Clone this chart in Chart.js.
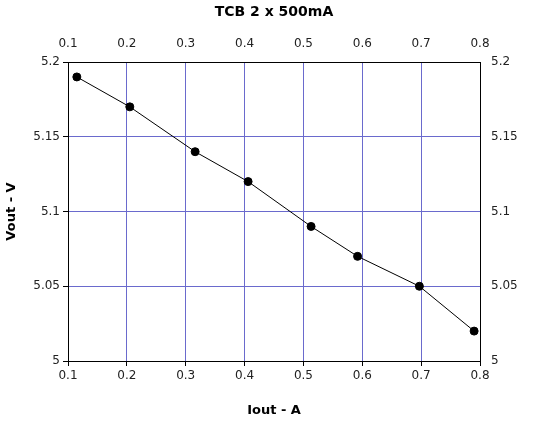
<!DOCTYPE html>
<html><head><script src="https://cdn.jsdelivr.net/npm/chart.js@4"></script>
<style>html,body{margin:0;padding:0;background:#fff}#w{width:552px;height:422px}</style></head>
<body><div id="w"><canvas id="c" width="552" height="422"></canvas></div>
<script>
const iout = [0.115, 0.205, 0.316, 0.406, 0.513, 0.592, 0.697, 0.79];
const vout = [5.19, 5.17, 5.14, 5.12, 5.09, 5.07, 5.05, 5.02];
const title = 'TCB 2 x 500mA';
const xLabel = 'Iout - A';
const yLabel = 'Vout - V';
const F = 'DejaVu Sans';
const grid = {color:'#6a6acd', lineWidth:1, tickLength:5, tickColor:'#000'};
const tk = {color:'#222', font:{family:F,size:12}};
function fix(sz){return s=>{if(s.isHorizontal()) s.height=sz; else s.width=sz;};}
new Chart(document.getElementById('c'), {
  type:'scatter',
  data:{datasets:[{data:iout.map((x,i)=>({x, y:vout[i]})), showLine:true, borderColor:'#000', borderWidth:1, backgroundColor:'#000', pointRadius:4, pointHoverRadius:4}]},
  options:{responsive:false, animation:false, layout:{padding:0},
    plugins:{legend:{display:false}, tooltip:{enabled:false}},
    scales:{
      x:{type:'linear', position:'bottom', min:0.1, max:0.8, border:{color:'#000'},
        ticks:{...tk, stepSize:0.1, callback:v=>+v.toFixed(1)}, grid,
        title:{display:true, text:xLabel, color:'#000', font:{family:F,size:13,weight:'bold'}, padding:{top:0}}, afterFit:fix(61)},
      x2:{type:'linear', position:'top', min:0.1, max:0.8, border:{color:'#000'},
        ticks:{...tk, stepSize:0.1, callback:v=>+v.toFixed(1)}, grid:{display:false, drawTicks:true},
        title:{display:true, text:title, color:'#000', font:{family:F,size:14,weight:'bold'}, padding:{top:4,bottom:2}}, afterFit:fix(62)},
      y:{type:'linear', position:'left', min:5, max:5.2, border:{color:'#000'},
        ticks:{...tk, stepSize:0.05, callback:v=>+v.toFixed(2)}, grid,
        title:{display:true, text:yLabel, color:'#000', font:{family:F,size:13,weight:'bold'}}, afterFit:fix(68)},
      y2:{type:'linear', position:'right', min:5, max:5.2, border:{color:'#000'},
        ticks:{...tk, stepSize:0.05, callback:v=>+v.toFixed(2)}, grid:{display:false}, afterFit:fix(72)}
    }}
});
</script></body></html>
